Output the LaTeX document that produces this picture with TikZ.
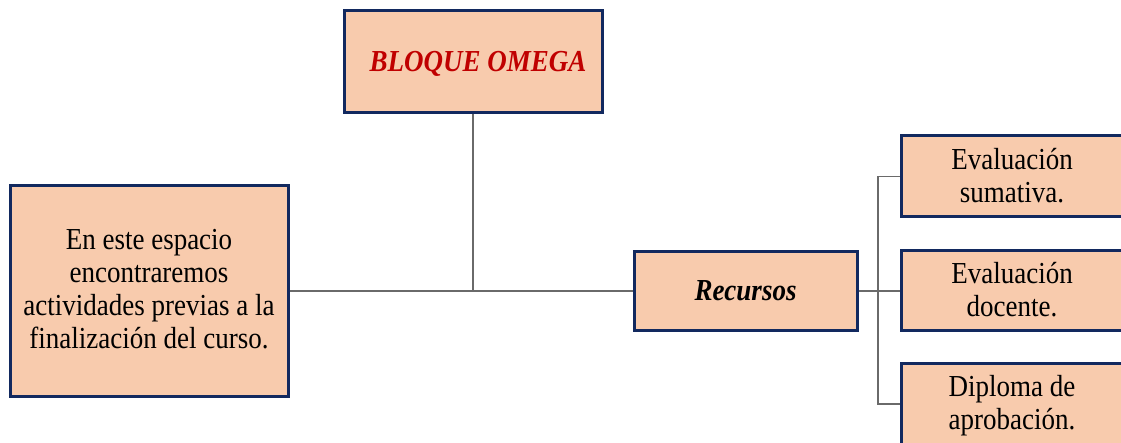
\documentclass[tikz,border=0pt]{standalone}
\usepackage{graphicx}
\usepackage{fontspec}
\setmainfont{Liberation Serif}
\definecolor{boxfill}{HTML}{F8CBAD}
\definecolor{boxline}{HTML}{12295F}
\definecolor{titlered}{HTML}{C00000}
\definecolor{conn}{HTML}{6A6A6A}
\newcommand\vtext[2][-2.5pt]{\raisebox{#1}[\height][\depth]{\scalebox{1}[1.13]{\begin{tabular}{@{}c@{}}#2\end{tabular}}}}
\begin{document}
\begin{tikzpicture}[x=1pt,y=-1pt,
  box/.style={draw=boxline, line width=3pt, fill=boxfill, inner sep=2pt, align=center,
    font=\fontsize{27}{29.2}\selectfont},
  link/.style={draw=conn, line width=1.5pt}]
\useasboundingbox (0,0) rectangle (1121,443);
\clip (0,0) rectangle (1121,443);
\node[box, minimum width=258pt, minimum height=102pt] (top) at (473,62)
  {\hspace{10pt}\vtext[-3pt]{\textcolor{titlered}{\textbf{\textit{BLOQUE OMEGA}}}}};
\node[box, minimum width=278pt, minimum height=210pt] (left) at (149,291)
  {\vtext[-1pt]{En este espacio\\encontraremos\\actividades previas a la\\finalización del curso.}};
\node[box, minimum width=223pt, minimum height=79pt] (rec) at (745.5,291)
  {\vtext[-3pt]{\textbf{\textit{Recursos}}}};
\node[box, minimum width=222pt, minimum height=81pt] (r1) at (1012,176.5)
  {\vtext{Evaluación\\sumativa.}};
\node[box, minimum width=222pt, minimum height=80pt] (r2) at (1012,291)
  {\vtext{Evaluación\\docente.}};
\node[box, minimum width=222pt, minimum height=82pt] (r3) at (1012,404)
  {\vtext{Diploma de\\aprobación.}};
\coordinate (j1) at (473,291);
\coordinate (j2) at (878,291);
\draw[link] (left.east) -- (rec.west);
\draw[link] (top.south) -- (j1);
\draw[link] (rec.east) -- (j2) -- (r2.west);
\draw[link] (r1.west) -| (j2) |- (r3.west);
\end{tikzpicture}
\end{document}
